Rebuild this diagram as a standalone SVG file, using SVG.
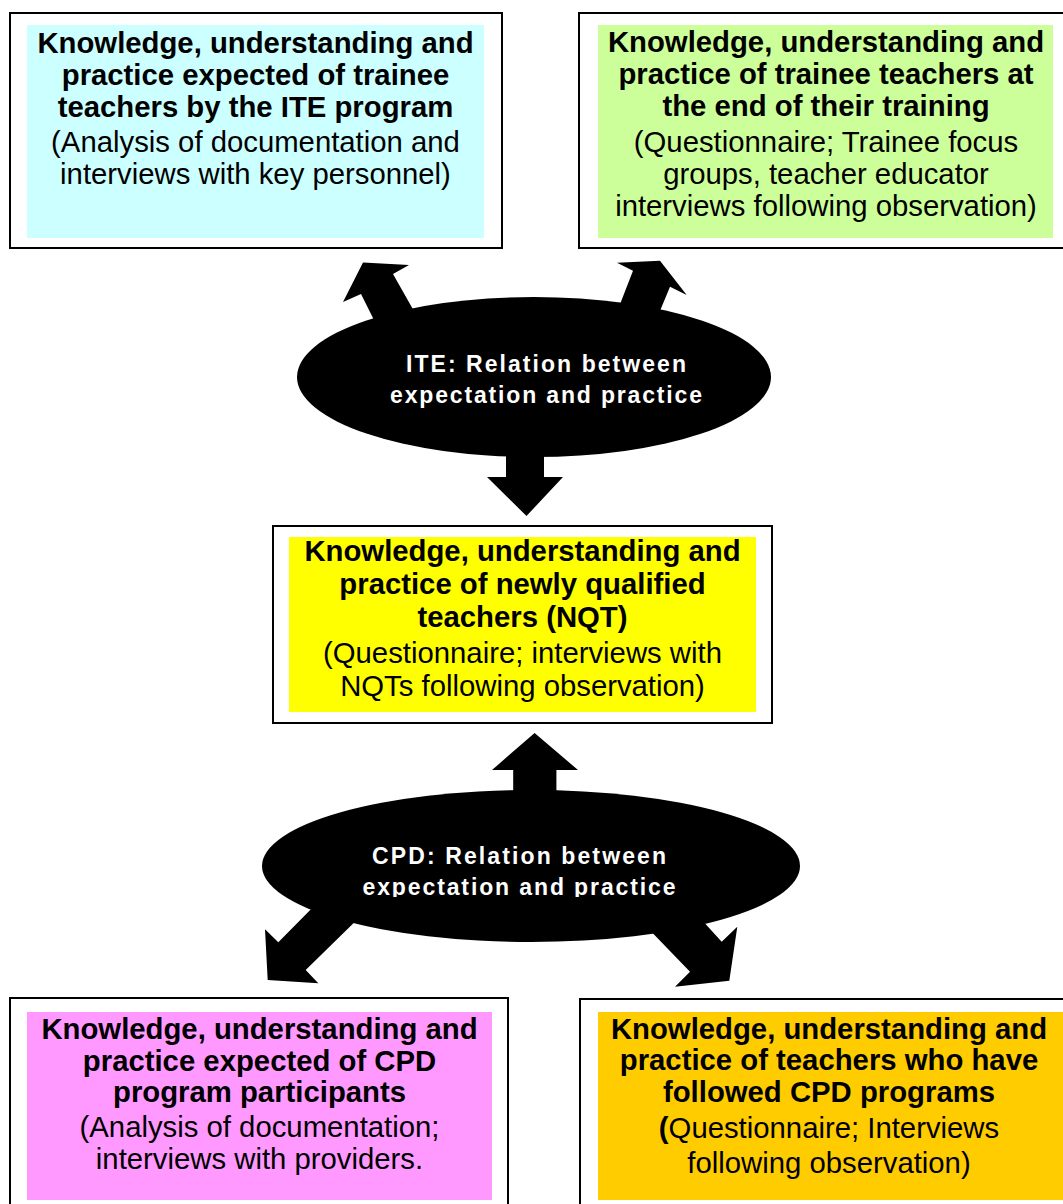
<svg xmlns="http://www.w3.org/2000/svg" width="1063" height="1204" viewBox="0 0 1063 1204">
<style>
.frame{fill:#fff;stroke:#000;stroke-width:2}
.t{font-family:"Liberation Sans",Arial,sans-serif;font-size:29.3px;text-anchor:middle;fill:#000}
.b{font-weight:bold}
.et{font-family:"Liberation Sans",Arial,sans-serif;font-size:23px;font-weight:bold;fill:#fff;text-anchor:middle}
.blk{fill:#000}
</style>
<defs>
<clipPath id="cpdclip"><rect x="250" y="820" width="560" height="77"/></clipPath>
</defs>
<rect width="1063" height="1204" fill="#fff"/>

<g id="connectors">
  <polygon class="blk" points="363,262.5 409,265 393,274 423,327 379,330 361,294 343,302"/>
  <polygon class="blk" points="617,262.7 660,260.7 686.7,295 670,286.7 650,335 610,330 633,270.7"/>
  <polygon class="blk" points="506,440 544,440 544,477 563,477 526.5,516 487,477 506,477"/>
  <polygon class="blk" points="534.6,733 578,770 556.4,770 556.4,805 513.2,805 513.2,770 492,770"/>
  <polygon class="blk" points="325,895 278.3,942.3 265,929.3 267.7,980 318.3,983.3 305.7,970 370,907"/>
  <polygon class="blk" points="640,920 690,971.7 675,986.7 729.3,980.7 737.3,926.7 721.7,941.7 690,907"/>
</g>

<g id="ite-relation">
  <ellipse class="blk" cx="534" cy="377" rx="237" ry="80"/>
  <text class="et" x="546" y="372" textLength="280" lengthAdjust="spacing">ITE: Relation between</text>
  <text class="et" x="546" y="403" textLength="312" lengthAdjust="spacing">expectation and practice</text>
</g>

<g id="cpd-relation">
  <ellipse class="blk" cx="531" cy="866" rx="269" ry="76"/>
  <g clip-path="url(#cpdclip)">
    <text class="et" x="519" y="864" textLength="294" lengthAdjust="spacing">CPD: Relation between</text>
    <text class="et" x="519" y="895" textLength="313" lengthAdjust="spacing">expectation and practice</text>
  </g>
</g>

<g id="ite-expected">
  <rect class="frame" x="10" y="13" width="492" height="235"/>
  <rect x="27" y="25" width="457" height="213" fill="#CCFFFF"/>
  <text class="t b" x="255.5" y="53">Knowledge, understanding and</text>
  <text class="t b" x="255.5" y="85">practice expected of trainee</text>
  <text class="t b" x="255.5" y="117">teachers by the ITE program</text>
  <text class="t" x="255.5" y="152">(Analysis of documentation and</text>
  <text class="t" x="255.5" y="184">interviews with key personnel)</text>
</g>

<g id="ite-trainees">
  <rect class="frame" x="579" y="13" width="500" height="235"/>
  <rect x="598" y="25" width="455" height="213" fill="#CCFF99"/>
  <text class="t b" x="826" y="52">Knowledge, understanding and</text>
  <text class="t b" x="826" y="84">practice of trainee teachers at</text>
  <text class="t b" x="826" y="116">the end of their training</text>
  <text class="t" x="826" y="152">(Questionnaire; Trainee focus</text>
  <text class="t" x="826" y="184">groups, teacher educator</text>
  <text class="t" x="826" y="216">interviews following observation)</text>
</g>

<g id="nqt">
  <rect class="frame" x="273" y="526" width="499" height="197"/>
  <rect x="289" y="537" width="467" height="175" fill="#FFFF00"/>
  <text class="t b" x="522.5" y="561">Knowledge, understanding and</text>
  <text class="t b" x="522.5" y="594">practice of newly qualified</text>
  <text class="t b" x="522.5" y="627">teachers (NQT)</text>
  <text class="t" x="522.5" y="663">(Questionnaire; interviews with</text>
  <text class="t" x="522.5" y="696">NQTs following observation)</text>
</g>

<g id="cpd-expected">
  <rect class="frame" x="10" y="998" width="498" height="230"/>
  <rect x="27" y="1012" width="465" height="188" fill="#FF99FF"/>
  <text class="t b" x="259.5" y="1039">Knowledge, understanding and</text>
  <text class="t b" x="259.5" y="1071">practice expected of CPD</text>
  <text class="t b" x="259.5" y="1102">program participants</text>
  <text class="t" x="259.5" y="1137">(Analysis of documentation;</text>
  <text class="t" x="259.5" y="1169">interviews with providers.</text>
</g>

<g id="cpd-teachers">
  <rect class="frame" x="580" y="999" width="500" height="230"/>
  <rect x="598" y="1012" width="465" height="188" fill="#FFCC00"/>
  <text class="t b" x="829" y="1039">Knowledge, understanding and</text>
  <text class="t b" x="829" y="1070">practice of teachers who have</text>
  <text class="t b" x="829" y="1102">followed CPD programs</text>
  <text class="t" x="829" y="1138"><tspan class="b">(</tspan>Questionnaire; Interviews</text>
  <text class="t" x="829" y="1173">following observation)</text>
</g>
</svg>
